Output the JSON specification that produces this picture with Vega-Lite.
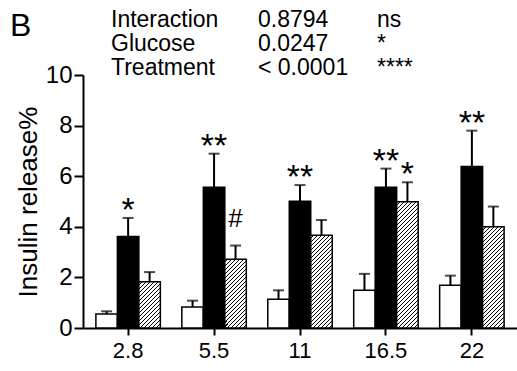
{
  "$schema": "https://vega.github.io/schema/vega-lite/v6.json",
  "width": 434,
  "height": 253,
  "autosize": {"type": "none"},
  "padding": {"left": 83, "top": 75, "right": 0, "bottom": 43},
  "background": "white",
  "config": {
    "view": {"stroke": null},
    "axis": {"domainColor": "black", "tickColor": "black", "labelColor": "black", "titleColor": "black", "domainWidth": 2, "tickWidth": 2, "grid": false, "labelFont": "Liberation Sans", "titleFont": "Liberation Sans", "titleFontWeight": "normal"},
    "axisX": {"labelFontSize": 22, "tickSize": 7, "labelPadding": 5, "labelAngle": 0},
    "axisY": {"labelFontSize": 24, "tickSize": 9, "labelPadding": 2, "titleFontSize": 26, "titlePadding": 4, "values": [0, 2, 4, 6, 8, 10]},
    "text": {"font": "Liberation Sans", "color": "black"}
  },
  "layer": [
    {
      "data": {"values": [
        {"glucose": "2.8", "series": "Control", "value": 0.55, "upper": 0.66, "sig": ""},
        {"glucose": "2.8", "series": "Treated", "value": 3.62, "upper": 4.35, "sig": "*"},
        {"glucose": "2.8", "series": "Treated + inhibitor", "value": 1.83, "upper": 2.21, "sig": ""},
        {"glucose": "5.5", "series": "Control", "value": 0.83, "upper": 1.08, "sig": ""},
        {"glucose": "5.5", "series": "Treated", "value": 5.56, "upper": 6.89, "sig": "**"},
        {"glucose": "5.5", "series": "Treated + inhibitor", "value": 2.72, "upper": 3.26, "sig": "#"},
        {"glucose": "11", "series": "Control", "value": 1.14, "upper": 1.49, "sig": ""},
        {"glucose": "11", "series": "Treated", "value": 5.01, "upper": 5.65, "sig": "**"},
        {"glucose": "11", "series": "Treated + inhibitor", "value": 3.67, "upper": 4.27, "sig": ""},
        {"glucose": "16.5", "series": "Control", "value": 1.49, "upper": 2.14, "sig": ""},
        {"glucose": "16.5", "series": "Treated", "value": 5.56, "upper": 6.30, "sig": "**"},
        {"glucose": "16.5", "series": "Treated + inhibitor", "value": 4.99, "upper": 5.76, "sig": "*"},
        {"glucose": "22", "series": "Control", "value": 1.69, "upper": 2.07, "sig": ""},
        {"glucose": "22", "series": "Treated", "value": 6.38, "upper": 7.80, "sig": "**"},
        {"glucose": "22", "series": "Treated + inhibitor", "value": 4.00, "upper": 4.80, "sig": ""}
      ]},
      "layer": [
        {
          "transform": [{"filter": "datum.series !== 'Treated + inhibitor'"}],
          "mark": {"type": "bar", "stroke": "black", "strokeWidth": 1.5},
          "encoding": {
            "x": {"field": "glucose", "type": "nominal", "title": null, "scale": {"domain": ["2.8", "5.5", "11", "16.5", "22"], "paddingInner": 0.25, "paddingOuter": 0.15}},
            "xOffset": {"field": "series", "type": "nominal", "scale": {"domain": ["Control", "Treated", "Treated + inhibitor"]}},
            "y": {"field": "value", "type": "quantitative", "title": "Insulin release%", "scale": {"domain": [0, 10], "nice": false}},
            "fill": {"field": "series", "type": "nominal", "legend": null, "scale": {"domain": ["Control", "Treated", "Treated + inhibitor"], "range": ["white", "black", "white"]}}
          }
        },
        {
          "transform": [{"filter": "datum.series === 'Treated + inhibitor' && datum.glucose === '2.8'"}],
          "mark": {"type": "bar", "stroke": "black", "strokeWidth": 1.5, "fill": {"gradient": "linear", "x1": 0, "y1": 0, "x2": 1.320, "y2": 2.843, "stops": [
            {"offset": 0, "color": "#fff"}, {"offset": 0.0165, "color": "#fff"}, {"offset": 0.0165, "color": "#000"}, {"offset": 0.025, "color": "#000"},
            {"offset": 0.025, "color": "#fff"}, {"offset": 0.0415, "color": "#fff"}, {"offset": 0.0415, "color": "#000"}, {"offset": 0.05, "color": "#000"},
            {"offset": 0.05, "color": "#fff"}, {"offset": 0.0665, "color": "#fff"}, {"offset": 0.0665, "color": "#000"}, {"offset": 0.075, "color": "#000"},
            {"offset": 0.075, "color": "#fff"}, {"offset": 0.0915, "color": "#fff"}, {"offset": 0.0915, "color": "#000"}, {"offset": 0.1, "color": "#000"},
            {"offset": 0.1, "color": "#fff"}, {"offset": 0.1165, "color": "#fff"}, {"offset": 0.1165, "color": "#000"}, {"offset": 0.125, "color": "#000"},
            {"offset": 0.125, "color": "#fff"}, {"offset": 0.1415, "color": "#fff"}, {"offset": 0.1415, "color": "#000"}, {"offset": 0.15, "color": "#000"},
            {"offset": 0.15, "color": "#fff"}, {"offset": 0.1665, "color": "#fff"}, {"offset": 0.1665, "color": "#000"}, {"offset": 0.175, "color": "#000"},
            {"offset": 0.175, "color": "#fff"}, {"offset": 0.1915, "color": "#fff"}, {"offset": 0.1915, "color": "#000"}, {"offset": 0.2, "color": "#000"},
            {"offset": 0.2, "color": "#fff"}, {"offset": 0.2165, "color": "#fff"}, {"offset": 0.2165, "color": "#000"}, {"offset": 0.225, "color": "#000"},
            {"offset": 0.225, "color": "#fff"}, {"offset": 0.2415, "color": "#fff"}, {"offset": 0.2415, "color": "#000"}, {"offset": 0.25, "color": "#000"},
            {"offset": 0.25, "color": "#fff"}, {"offset": 0.2665, "color": "#fff"}, {"offset": 0.2665, "color": "#000"}, {"offset": 0.275, "color": "#000"},
            {"offset": 0.275, "color": "#fff"}, {"offset": 0.2915, "color": "#fff"}, {"offset": 0.2915, "color": "#000"}, {"offset": 0.3, "color": "#000"},
            {"offset": 0.3, "color": "#fff"}, {"offset": 0.3165, "color": "#fff"}, {"offset": 0.3165, "color": "#000"}, {"offset": 0.325, "color": "#000"},
            {"offset": 0.325, "color": "#fff"}, {"offset": 0.3415, "color": "#fff"}, {"offset": 0.3415, "color": "#000"}, {"offset": 0.35, "color": "#000"},
            {"offset": 0.35, "color": "#fff"}, {"offset": 0.3665, "color": "#fff"}, {"offset": 0.3665, "color": "#000"}, {"offset": 0.375, "color": "#000"},
            {"offset": 0.375, "color": "#fff"}, {"offset": 0.3915, "color": "#fff"}, {"offset": 0.3915, "color": "#000"}, {"offset": 0.4, "color": "#000"},
            {"offset": 0.4, "color": "#fff"}, {"offset": 0.4165, "color": "#fff"}, {"offset": 0.4165, "color": "#000"}, {"offset": 0.425, "color": "#000"},
            {"offset": 0.425, "color": "#fff"}, {"offset": 0.4415, "color": "#fff"}, {"offset": 0.4415, "color": "#000"}, {"offset": 0.45, "color": "#000"},
            {"offset": 0.45, "color": "#fff"}, {"offset": 0.4665, "color": "#fff"}, {"offset": 0.4665, "color": "#000"}, {"offset": 0.475, "color": "#000"},
            {"offset": 0.475, "color": "#fff"}, {"offset": 0.4915, "color": "#fff"}, {"offset": 0.4915, "color": "#000"}, {"offset": 0.5, "color": "#000"}
          ]}},
          "encoding": {
            "x": {"field": "glucose", "type": "nominal", "title": null, "scale": {"domain": ["2.8", "5.5", "11", "16.5", "22"], "paddingInner": 0.25, "paddingOuter": 0.15}},
            "xOffset": {"field": "series", "type": "nominal", "scale": {"domain": ["Control", "Treated", "Treated + inhibitor"]}},
            "y": {"field": "value", "type": "quantitative", "title": "Insulin release%", "scale": {"domain": [0, 10], "nice": false}}
          }
        },
        {
          "transform": [{"filter": "datum.series === 'Treated + inhibitor' && datum.glucose === '5.5'"}],
          "mark": {"type": "bar", "stroke": "black", "strokeWidth": 1.5, "fill": {"gradient": "linear", "x1": 0, "y1": 0, "x2": 0.6621, "y2": 2.1187, "stops": [
            {"offset": 0, "color": "#fff"}, {"offset": 0.0165, "color": "#fff"}, {"offset": 0.0165, "color": "#000"}, {"offset": 0.025, "color": "#000"},
            {"offset": 0.025, "color": "#fff"}, {"offset": 0.0415, "color": "#fff"}, {"offset": 0.0415, "color": "#000"}, {"offset": 0.05, "color": "#000"},
            {"offset": 0.05, "color": "#fff"}, {"offset": 0.0665, "color": "#fff"}, {"offset": 0.0665, "color": "#000"}, {"offset": 0.075, "color": "#000"},
            {"offset": 0.075, "color": "#fff"}, {"offset": 0.0915, "color": "#fff"}, {"offset": 0.0915, "color": "#000"}, {"offset": 0.1, "color": "#000"},
            {"offset": 0.1, "color": "#fff"}, {"offset": 0.1165, "color": "#fff"}, {"offset": 0.1165, "color": "#000"}, {"offset": 0.125, "color": "#000"},
            {"offset": 0.125, "color": "#fff"}, {"offset": 0.1415, "color": "#fff"}, {"offset": 0.1415, "color": "#000"}, {"offset": 0.15, "color": "#000"},
            {"offset": 0.15, "color": "#fff"}, {"offset": 0.1665, "color": "#fff"}, {"offset": 0.1665, "color": "#000"}, {"offset": 0.175, "color": "#000"},
            {"offset": 0.175, "color": "#fff"}, {"offset": 0.1915, "color": "#fff"}, {"offset": 0.1915, "color": "#000"}, {"offset": 0.2, "color": "#000"},
            {"offset": 0.2, "color": "#fff"}, {"offset": 0.2165, "color": "#fff"}, {"offset": 0.2165, "color": "#000"}, {"offset": 0.225, "color": "#000"},
            {"offset": 0.225, "color": "#fff"}, {"offset": 0.2415, "color": "#fff"}, {"offset": 0.2415, "color": "#000"}, {"offset": 0.25, "color": "#000"},
            {"offset": 0.25, "color": "#fff"}, {"offset": 0.2665, "color": "#fff"}, {"offset": 0.2665, "color": "#000"}, {"offset": 0.275, "color": "#000"},
            {"offset": 0.275, "color": "#fff"}, {"offset": 0.2915, "color": "#fff"}, {"offset": 0.2915, "color": "#000"}, {"offset": 0.3, "color": "#000"},
            {"offset": 0.3, "color": "#fff"}, {"offset": 0.3165, "color": "#fff"}, {"offset": 0.3165, "color": "#000"}, {"offset": 0.325, "color": "#000"},
            {"offset": 0.325, "color": "#fff"}, {"offset": 0.3415, "color": "#fff"}, {"offset": 0.3415, "color": "#000"}, {"offset": 0.35, "color": "#000"},
            {"offset": 0.35, "color": "#fff"}, {"offset": 0.3665, "color": "#fff"}, {"offset": 0.3665, "color": "#000"}, {"offset": 0.375, "color": "#000"},
            {"offset": 0.375, "color": "#fff"}, {"offset": 0.3915, "color": "#fff"}, {"offset": 0.3915, "color": "#000"}, {"offset": 0.4, "color": "#000"},
            {"offset": 0.4, "color": "#fff"}, {"offset": 0.4165, "color": "#fff"}, {"offset": 0.4165, "color": "#000"}, {"offset": 0.425, "color": "#000"},
            {"offset": 0.425, "color": "#fff"}, {"offset": 0.4415, "color": "#fff"}, {"offset": 0.4415, "color": "#000"}, {"offset": 0.45, "color": "#000"},
            {"offset": 0.45, "color": "#fff"}, {"offset": 0.4665, "color": "#fff"}, {"offset": 0.4665, "color": "#000"}, {"offset": 0.475, "color": "#000"},
            {"offset": 0.475, "color": "#fff"}, {"offset": 0.4915, "color": "#fff"}, {"offset": 0.4915, "color": "#000"}, {"offset": 0.5, "color": "#000"},
            {"offset": 0.5, "color": "#fff"}, {"offset": 0.5165, "color": "#fff"}, {"offset": 0.5165, "color": "#000"}, {"offset": 0.525, "color": "#000"},
            {"offset": 0.525, "color": "#fff"}, {"offset": 0.5415, "color": "#fff"}, {"offset": 0.5415, "color": "#000"}, {"offset": 0.55, "color": "#000"},
            {"offset": 0.55, "color": "#fff"}, {"offset": 0.5665, "color": "#fff"}, {"offset": 0.5665, "color": "#000"}, {"offset": 0.575, "color": "#000"},
            {"offset": 0.575, "color": "#fff"}, {"offset": 0.5915, "color": "#fff"}, {"offset": 0.5915, "color": "#000"}, {"offset": 0.6, "color": "#000"},
            {"offset": 0.6, "color": "#fff"}, {"offset": 0.6165, "color": "#fff"}, {"offset": 0.6165, "color": "#000"}, {"offset": 0.625, "color": "#000"}
          ]}},
          "encoding": {
            "x": {"field": "glucose", "type": "nominal", "title": null, "scale": {"domain": ["2.8", "5.5", "11", "16.5", "22"], "paddingInner": 0.25, "paddingOuter": 0.15}},
            "xOffset": {"field": "series", "type": "nominal", "scale": {"domain": ["Control", "Treated", "Treated + inhibitor"]}},
            "y": {"field": "value", "type": "quantitative", "title": "Insulin release%", "scale": {"domain": [0, 10], "nice": false}}
          }
        },
        {
          "transform": [{"filter": "datum.series === 'Treated + inhibitor' && datum.glucose === '11'"}],
          "mark": {"type": "bar", "stroke": "black", "strokeWidth": 1.5, "fill": {"gradient": "linear", "x1": 0, "y1": 0, "x2": 0.3783, "y2": 1.6347, "stops": [
            {"offset": 0, "color": "#fff"}, {"offset": 0.0165, "color": "#fff"}, {"offset": 0.0165, "color": "#000"}, {"offset": 0.025, "color": "#000"},
            {"offset": 0.025, "color": "#fff"}, {"offset": 0.0415, "color": "#fff"}, {"offset": 0.0415, "color": "#000"}, {"offset": 0.05, "color": "#000"},
            {"offset": 0.05, "color": "#fff"}, {"offset": 0.0665, "color": "#fff"}, {"offset": 0.0665, "color": "#000"}, {"offset": 0.075, "color": "#000"},
            {"offset": 0.075, "color": "#fff"}, {"offset": 0.0915, "color": "#fff"}, {"offset": 0.0915, "color": "#000"}, {"offset": 0.1, "color": "#000"},
            {"offset": 0.1, "color": "#fff"}, {"offset": 0.1165, "color": "#fff"}, {"offset": 0.1165, "color": "#000"}, {"offset": 0.125, "color": "#000"},
            {"offset": 0.125, "color": "#fff"}, {"offset": 0.1415, "color": "#fff"}, {"offset": 0.1415, "color": "#000"}, {"offset": 0.15, "color": "#000"},
            {"offset": 0.15, "color": "#fff"}, {"offset": 0.1665, "color": "#fff"}, {"offset": 0.1665, "color": "#000"}, {"offset": 0.175, "color": "#000"},
            {"offset": 0.175, "color": "#fff"}, {"offset": 0.1915, "color": "#fff"}, {"offset": 0.1915, "color": "#000"}, {"offset": 0.2, "color": "#000"},
            {"offset": 0.2, "color": "#fff"}, {"offset": 0.2165, "color": "#fff"}, {"offset": 0.2165, "color": "#000"}, {"offset": 0.225, "color": "#000"},
            {"offset": 0.225, "color": "#fff"}, {"offset": 0.2415, "color": "#fff"}, {"offset": 0.2415, "color": "#000"}, {"offset": 0.25, "color": "#000"},
            {"offset": 0.25, "color": "#fff"}, {"offset": 0.2665, "color": "#fff"}, {"offset": 0.2665, "color": "#000"}, {"offset": 0.275, "color": "#000"},
            {"offset": 0.275, "color": "#fff"}, {"offset": 0.2915, "color": "#fff"}, {"offset": 0.2915, "color": "#000"}, {"offset": 0.3, "color": "#000"},
            {"offset": 0.3, "color": "#fff"}, {"offset": 0.3165, "color": "#fff"}, {"offset": 0.3165, "color": "#000"}, {"offset": 0.325, "color": "#000"},
            {"offset": 0.325, "color": "#fff"}, {"offset": 0.3415, "color": "#fff"}, {"offset": 0.3415, "color": "#000"}, {"offset": 0.35, "color": "#000"},
            {"offset": 0.35, "color": "#fff"}, {"offset": 0.3665, "color": "#fff"}, {"offset": 0.3665, "color": "#000"}, {"offset": 0.375, "color": "#000"},
            {"offset": 0.375, "color": "#fff"}, {"offset": 0.3915, "color": "#fff"}, {"offset": 0.3915, "color": "#000"}, {"offset": 0.4, "color": "#000"},
            {"offset": 0.4, "color": "#fff"}, {"offset": 0.4165, "color": "#fff"}, {"offset": 0.4165, "color": "#000"}, {"offset": 0.425, "color": "#000"},
            {"offset": 0.425, "color": "#fff"}, {"offset": 0.4415, "color": "#fff"}, {"offset": 0.4415, "color": "#000"}, {"offset": 0.45, "color": "#000"},
            {"offset": 0.45, "color": "#fff"}, {"offset": 0.4665, "color": "#fff"}, {"offset": 0.4665, "color": "#000"}, {"offset": 0.475, "color": "#000"},
            {"offset": 0.475, "color": "#fff"}, {"offset": 0.4915, "color": "#fff"}, {"offset": 0.4915, "color": "#000"}, {"offset": 0.5, "color": "#000"},
            {"offset": 0.5, "color": "#fff"}, {"offset": 0.5165, "color": "#fff"}, {"offset": 0.5165, "color": "#000"}, {"offset": 0.525, "color": "#000"},
            {"offset": 0.525, "color": "#fff"}, {"offset": 0.5415, "color": "#fff"}, {"offset": 0.5415, "color": "#000"}, {"offset": 0.55, "color": "#000"},
            {"offset": 0.55, "color": "#fff"}, {"offset": 0.5665, "color": "#fff"}, {"offset": 0.5665, "color": "#000"}, {"offset": 0.575, "color": "#000"},
            {"offset": 0.575, "color": "#fff"}, {"offset": 0.5915, "color": "#fff"}, {"offset": 0.5915, "color": "#000"}, {"offset": 0.6, "color": "#000"},
            {"offset": 0.6, "color": "#fff"}, {"offset": 0.6165, "color": "#fff"}, {"offset": 0.6165, "color": "#000"}, {"offset": 0.625, "color": "#000"},
            {"offset": 0.625, "color": "#fff"}, {"offset": 0.6415, "color": "#fff"}, {"offset": 0.6415, "color": "#000"}, {"offset": 0.65, "color": "#000"},
            {"offset": 0.65, "color": "#fff"}, {"offset": 0.6665, "color": "#fff"}, {"offset": 0.6665, "color": "#000"}, {"offset": 0.675, "color": "#000"},
            {"offset": 0.675, "color": "#fff"}, {"offset": 0.6915, "color": "#fff"}, {"offset": 0.6915, "color": "#000"}, {"offset": 0.7, "color": "#000"},
            {"offset": 0.7, "color": "#fff"}, {"offset": 0.7165, "color": "#fff"}, {"offset": 0.7165, "color": "#000"}, {"offset": 0.725, "color": "#000"},
            {"offset": 0.725, "color": "#fff"}, {"offset": 0.7415, "color": "#fff"}, {"offset": 0.7415, "color": "#000"}, {"offset": 0.75, "color": "#000"},
            {"offset": 0.75, "color": "#fff"}, {"offset": 0.7665, "color": "#fff"}, {"offset": 0.7665, "color": "#000"}, {"offset": 0.775, "color": "#000"}
          ]}},
          "encoding": {
            "x": {"field": "glucose", "type": "nominal", "title": null, "scale": {"domain": ["2.8", "5.5", "11", "16.5", "22"], "paddingInner": 0.25, "paddingOuter": 0.15}},
            "xOffset": {"field": "series", "type": "nominal", "scale": {"domain": ["Control", "Treated", "Treated + inhibitor"]}},
            "y": {"field": "value", "type": "quantitative", "title": "Insulin release%", "scale": {"domain": [0, 10], "nice": false}}
          }
        },
        {
          "transform": [{"filter": "datum.series === 'Treated + inhibitor' && datum.glucose === '16.5'"}],
          "mark": {"type": "bar", "stroke": "black", "strokeWidth": 1.5, "fill": {"gradient": "linear", "x1": 0, "y1": 0, "x2": 0.2099, "y2": 1.2321, "stops": [
            {"offset": 0, "color": "#fff"}, {"offset": 0.0165, "color": "#fff"}, {"offset": 0.0165, "color": "#000"}, {"offset": 0.025, "color": "#000"},
            {"offset": 0.025, "color": "#fff"}, {"offset": 0.0415, "color": "#fff"}, {"offset": 0.0415, "color": "#000"}, {"offset": 0.05, "color": "#000"},
            {"offset": 0.05, "color": "#fff"}, {"offset": 0.0665, "color": "#fff"}, {"offset": 0.0665, "color": "#000"}, {"offset": 0.075, "color": "#000"},
            {"offset": 0.075, "color": "#fff"}, {"offset": 0.0915, "color": "#fff"}, {"offset": 0.0915, "color": "#000"}, {"offset": 0.1, "color": "#000"},
            {"offset": 0.1, "color": "#fff"}, {"offset": 0.1165, "color": "#fff"}, {"offset": 0.1165, "color": "#000"}, {"offset": 0.125, "color": "#000"},
            {"offset": 0.125, "color": "#fff"}, {"offset": 0.1415, "color": "#fff"}, {"offset": 0.1415, "color": "#000"}, {"offset": 0.15, "color": "#000"},
            {"offset": 0.15, "color": "#fff"}, {"offset": 0.1665, "color": "#fff"}, {"offset": 0.1665, "color": "#000"}, {"offset": 0.175, "color": "#000"},
            {"offset": 0.175, "color": "#fff"}, {"offset": 0.1915, "color": "#fff"}, {"offset": 0.1915, "color": "#000"}, {"offset": 0.2, "color": "#000"},
            {"offset": 0.2, "color": "#fff"}, {"offset": 0.2165, "color": "#fff"}, {"offset": 0.2165, "color": "#000"}, {"offset": 0.225, "color": "#000"},
            {"offset": 0.225, "color": "#fff"}, {"offset": 0.2415, "color": "#fff"}, {"offset": 0.2415, "color": "#000"}, {"offset": 0.25, "color": "#000"},
            {"offset": 0.25, "color": "#fff"}, {"offset": 0.2665, "color": "#fff"}, {"offset": 0.2665, "color": "#000"}, {"offset": 0.275, "color": "#000"},
            {"offset": 0.275, "color": "#fff"}, {"offset": 0.2915, "color": "#fff"}, {"offset": 0.2915, "color": "#000"}, {"offset": 0.3, "color": "#000"},
            {"offset": 0.3, "color": "#fff"}, {"offset": 0.3165, "color": "#fff"}, {"offset": 0.3165, "color": "#000"}, {"offset": 0.325, "color": "#000"},
            {"offset": 0.325, "color": "#fff"}, {"offset": 0.3415, "color": "#fff"}, {"offset": 0.3415, "color": "#000"}, {"offset": 0.35, "color": "#000"},
            {"offset": 0.35, "color": "#fff"}, {"offset": 0.3665, "color": "#fff"}, {"offset": 0.3665, "color": "#000"}, {"offset": 0.375, "color": "#000"},
            {"offset": 0.375, "color": "#fff"}, {"offset": 0.3915, "color": "#fff"}, {"offset": 0.3915, "color": "#000"}, {"offset": 0.4, "color": "#000"},
            {"offset": 0.4, "color": "#fff"}, {"offset": 0.4165, "color": "#fff"}, {"offset": 0.4165, "color": "#000"}, {"offset": 0.425, "color": "#000"},
            {"offset": 0.425, "color": "#fff"}, {"offset": 0.4415, "color": "#fff"}, {"offset": 0.4415, "color": "#000"}, {"offset": 0.45, "color": "#000"},
            {"offset": 0.45, "color": "#fff"}, {"offset": 0.4665, "color": "#fff"}, {"offset": 0.4665, "color": "#000"}, {"offset": 0.475, "color": "#000"},
            {"offset": 0.475, "color": "#fff"}, {"offset": 0.4915, "color": "#fff"}, {"offset": 0.4915, "color": "#000"}, {"offset": 0.5, "color": "#000"},
            {"offset": 0.5, "color": "#fff"}, {"offset": 0.5165, "color": "#fff"}, {"offset": 0.5165, "color": "#000"}, {"offset": 0.525, "color": "#000"},
            {"offset": 0.525, "color": "#fff"}, {"offset": 0.5415, "color": "#fff"}, {"offset": 0.5415, "color": "#000"}, {"offset": 0.55, "color": "#000"},
            {"offset": 0.55, "color": "#fff"}, {"offset": 0.5665, "color": "#fff"}, {"offset": 0.5665, "color": "#000"}, {"offset": 0.575, "color": "#000"},
            {"offset": 0.575, "color": "#fff"}, {"offset": 0.5915, "color": "#fff"}, {"offset": 0.5915, "color": "#000"}, {"offset": 0.6, "color": "#000"},
            {"offset": 0.6, "color": "#fff"}, {"offset": 0.6165, "color": "#fff"}, {"offset": 0.6165, "color": "#000"}, {"offset": 0.625, "color": "#000"},
            {"offset": 0.625, "color": "#fff"}, {"offset": 0.6415, "color": "#fff"}, {"offset": 0.6415, "color": "#000"}, {"offset": 0.65, "color": "#000"},
            {"offset": 0.65, "color": "#fff"}, {"offset": 0.6665, "color": "#fff"}, {"offset": 0.6665, "color": "#000"}, {"offset": 0.675, "color": "#000"},
            {"offset": 0.675, "color": "#fff"}, {"offset": 0.6915, "color": "#fff"}, {"offset": 0.6915, "color": "#000"}, {"offset": 0.7, "color": "#000"},
            {"offset": 0.7, "color": "#fff"}, {"offset": 0.7165, "color": "#fff"}, {"offset": 0.7165, "color": "#000"}, {"offset": 0.725, "color": "#000"},
            {"offset": 0.725, "color": "#fff"}, {"offset": 0.7415, "color": "#fff"}, {"offset": 0.7415, "color": "#000"}, {"offset": 0.75, "color": "#000"},
            {"offset": 0.75, "color": "#fff"}, {"offset": 0.7665, "color": "#fff"}, {"offset": 0.7665, "color": "#000"}, {"offset": 0.775, "color": "#000"},
            {"offset": 0.775, "color": "#fff"}, {"offset": 0.7915, "color": "#fff"}, {"offset": 0.7915, "color": "#000"}, {"offset": 0.8, "color": "#000"},
            {"offset": 0.8, "color": "#fff"}, {"offset": 0.8165, "color": "#fff"}, {"offset": 0.8165, "color": "#000"}, {"offset": 0.825, "color": "#000"},
            {"offset": 0.825, "color": "#fff"}, {"offset": 0.8415, "color": "#fff"}, {"offset": 0.8415, "color": "#000"}, {"offset": 0.85, "color": "#000"},
            {"offset": 0.85, "color": "#fff"}, {"offset": 0.8665, "color": "#fff"}, {"offset": 0.8665, "color": "#000"}, {"offset": 0.875, "color": "#000"},
            {"offset": 0.875, "color": "#fff"}, {"offset": 0.8915, "color": "#fff"}, {"offset": 0.8915, "color": "#000"}, {"offset": 0.9, "color": "#000"},
            {"offset": 0.9, "color": "#fff"}, {"offset": 0.9165, "color": "#fff"}, {"offset": 0.9165, "color": "#000"}, {"offset": 0.925, "color": "#000"},
            {"offset": 0.925, "color": "#fff"}, {"offset": 0.9415, "color": "#fff"}, {"offset": 0.9415, "color": "#000"}, {"offset": 0.95, "color": "#000"},
            {"offset": 0.95, "color": "#fff"}, {"offset": 0.9665, "color": "#fff"}, {"offset": 0.9665, "color": "#000"}, {"offset": 0.975, "color": "#000"}
          ]}},
          "encoding": {
            "x": {"field": "glucose", "type": "nominal", "title": null, "scale": {"domain": ["2.8", "5.5", "11", "16.5", "22"], "paddingInner": 0.25, "paddingOuter": 0.15}},
            "xOffset": {"field": "series", "type": "nominal", "scale": {"domain": ["Control", "Treated", "Treated + inhibitor"]}},
            "y": {"field": "value", "type": "quantitative", "title": "Insulin release%", "scale": {"domain": [0, 10], "nice": false}}
          }
        },
        {
          "transform": [{"filter": "datum.series === 'Treated + inhibitor' && datum.glucose === '22'"}],
          "mark": {"type": "bar", "stroke": "black", "strokeWidth": 1.5, "fill": {"gradient": "linear", "x1": 0, "y1": 0, "x2": 0.3214, "y2": 1.5127, "stops": [
            {"offset": 0, "color": "#fff"}, {"offset": 0.0165, "color": "#fff"}, {"offset": 0.0165, "color": "#000"}, {"offset": 0.025, "color": "#000"},
            {"offset": 0.025, "color": "#fff"}, {"offset": 0.0415, "color": "#fff"}, {"offset": 0.0415, "color": "#000"}, {"offset": 0.05, "color": "#000"},
            {"offset": 0.05, "color": "#fff"}, {"offset": 0.0665, "color": "#fff"}, {"offset": 0.0665, "color": "#000"}, {"offset": 0.075, "color": "#000"},
            {"offset": 0.075, "color": "#fff"}, {"offset": 0.0915, "color": "#fff"}, {"offset": 0.0915, "color": "#000"}, {"offset": 0.1, "color": "#000"},
            {"offset": 0.1, "color": "#fff"}, {"offset": 0.1165, "color": "#fff"}, {"offset": 0.1165, "color": "#000"}, {"offset": 0.125, "color": "#000"},
            {"offset": 0.125, "color": "#fff"}, {"offset": 0.1415, "color": "#fff"}, {"offset": 0.1415, "color": "#000"}, {"offset": 0.15, "color": "#000"},
            {"offset": 0.15, "color": "#fff"}, {"offset": 0.1665, "color": "#fff"}, {"offset": 0.1665, "color": "#000"}, {"offset": 0.175, "color": "#000"},
            {"offset": 0.175, "color": "#fff"}, {"offset": 0.1915, "color": "#fff"}, {"offset": 0.1915, "color": "#000"}, {"offset": 0.2, "color": "#000"},
            {"offset": 0.2, "color": "#fff"}, {"offset": 0.2165, "color": "#fff"}, {"offset": 0.2165, "color": "#000"}, {"offset": 0.225, "color": "#000"},
            {"offset": 0.225, "color": "#fff"}, {"offset": 0.2415, "color": "#fff"}, {"offset": 0.2415, "color": "#000"}, {"offset": 0.25, "color": "#000"},
            {"offset": 0.25, "color": "#fff"}, {"offset": 0.2665, "color": "#fff"}, {"offset": 0.2665, "color": "#000"}, {"offset": 0.275, "color": "#000"},
            {"offset": 0.275, "color": "#fff"}, {"offset": 0.2915, "color": "#fff"}, {"offset": 0.2915, "color": "#000"}, {"offset": 0.3, "color": "#000"},
            {"offset": 0.3, "color": "#fff"}, {"offset": 0.3165, "color": "#fff"}, {"offset": 0.3165, "color": "#000"}, {"offset": 0.325, "color": "#000"},
            {"offset": 0.325, "color": "#fff"}, {"offset": 0.3415, "color": "#fff"}, {"offset": 0.3415, "color": "#000"}, {"offset": 0.35, "color": "#000"},
            {"offset": 0.35, "color": "#fff"}, {"offset": 0.3665, "color": "#fff"}, {"offset": 0.3665, "color": "#000"}, {"offset": 0.375, "color": "#000"},
            {"offset": 0.375, "color": "#fff"}, {"offset": 0.3915, "color": "#fff"}, {"offset": 0.3915, "color": "#000"}, {"offset": 0.4, "color": "#000"},
            {"offset": 0.4, "color": "#fff"}, {"offset": 0.4165, "color": "#fff"}, {"offset": 0.4165, "color": "#000"}, {"offset": 0.425, "color": "#000"},
            {"offset": 0.425, "color": "#fff"}, {"offset": 0.4415, "color": "#fff"}, {"offset": 0.4415, "color": "#000"}, {"offset": 0.45, "color": "#000"},
            {"offset": 0.45, "color": "#fff"}, {"offset": 0.4665, "color": "#fff"}, {"offset": 0.4665, "color": "#000"}, {"offset": 0.475, "color": "#000"},
            {"offset": 0.475, "color": "#fff"}, {"offset": 0.4915, "color": "#fff"}, {"offset": 0.4915, "color": "#000"}, {"offset": 0.5, "color": "#000"},
            {"offset": 0.5, "color": "#fff"}, {"offset": 0.5165, "color": "#fff"}, {"offset": 0.5165, "color": "#000"}, {"offset": 0.525, "color": "#000"},
            {"offset": 0.525, "color": "#fff"}, {"offset": 0.5415, "color": "#fff"}, {"offset": 0.5415, "color": "#000"}, {"offset": 0.55, "color": "#000"},
            {"offset": 0.55, "color": "#fff"}, {"offset": 0.5665, "color": "#fff"}, {"offset": 0.5665, "color": "#000"}, {"offset": 0.575, "color": "#000"},
            {"offset": 0.575, "color": "#fff"}, {"offset": 0.5915, "color": "#fff"}, {"offset": 0.5915, "color": "#000"}, {"offset": 0.6, "color": "#000"},
            {"offset": 0.6, "color": "#fff"}, {"offset": 0.6165, "color": "#fff"}, {"offset": 0.6165, "color": "#000"}, {"offset": 0.625, "color": "#000"},
            {"offset": 0.625, "color": "#fff"}, {"offset": 0.6415, "color": "#fff"}, {"offset": 0.6415, "color": "#000"}, {"offset": 0.65, "color": "#000"},
            {"offset": 0.65, "color": "#fff"}, {"offset": 0.6665, "color": "#fff"}, {"offset": 0.6665, "color": "#000"}, {"offset": 0.675, "color": "#000"},
            {"offset": 0.675, "color": "#fff"}, {"offset": 0.6915, "color": "#fff"}, {"offset": 0.6915, "color": "#000"}, {"offset": 0.7, "color": "#000"},
            {"offset": 0.7, "color": "#fff"}, {"offset": 0.7165, "color": "#fff"}, {"offset": 0.7165, "color": "#000"}, {"offset": 0.725, "color": "#000"},
            {"offset": 0.725, "color": "#fff"}, {"offset": 0.7415, "color": "#fff"}, {"offset": 0.7415, "color": "#000"}, {"offset": 0.75, "color": "#000"},
            {"offset": 0.75, "color": "#fff"}, {"offset": 0.7665, "color": "#fff"}, {"offset": 0.7665, "color": "#000"}, {"offset": 0.775, "color": "#000"},
            {"offset": 0.775, "color": "#fff"}, {"offset": 0.7915, "color": "#fff"}, {"offset": 0.7915, "color": "#000"}, {"offset": 0.8, "color": "#000"},
            {"offset": 0.8, "color": "#fff"}, {"offset": 0.8165, "color": "#fff"}, {"offset": 0.8165, "color": "#000"}, {"offset": 0.825, "color": "#000"}
          ]}},
          "encoding": {
            "x": {"field": "glucose", "type": "nominal", "title": null, "scale": {"domain": ["2.8", "5.5", "11", "16.5", "22"], "paddingInner": 0.25, "paddingOuter": 0.15}},
            "xOffset": {"field": "series", "type": "nominal", "scale": {"domain": ["Control", "Treated", "Treated + inhibitor"]}},
            "y": {"field": "value", "type": "quantitative", "title": "Insulin release%", "scale": {"domain": [0, 10], "nice": false}}
          }
        },
        {
          "mark": {"type": "rule", "color": "black", "strokeWidth": 2},
          "encoding": {
            "x": {"field": "glucose", "type": "nominal", "title": null, "scale": {"domain": ["2.8", "5.5", "11", "16.5", "22"], "paddingInner": 0.25, "paddingOuter": 0.15}},
            "xOffset": {"field": "series", "type": "nominal", "scale": {"domain": ["Control", "Treated", "Treated + inhibitor"]}},
            "y": {"field": "value", "type": "quantitative", "title": "Insulin release%", "scale": {"domain": [0, 10], "nice": false}},
            "y2": {"field": "upper"}
          }
        },
        {
          "mark": {"type": "tick", "color": "black", "size": 11, "thickness": 2, "orient": "horizontal"},
          "encoding": {
            "x": {"field": "glucose", "type": "nominal", "title": null, "scale": {"domain": ["2.8", "5.5", "11", "16.5", "22"], "paddingInner": 0.25, "paddingOuter": 0.15}},
            "xOffset": {"field": "series", "type": "nominal", "scale": {"domain": ["Control", "Treated", "Treated + inhibitor"]}},
            "y": {"field": "upper", "type": "quantitative", "title": "Insulin release%", "scale": {"domain": [0, 10], "nice": false}}
          }
        },
        {
          "transform": [{"filter": "indexof(datum.sig, '*') >= 0"}],
          "mark": {"type": "text", "fontSize": 34, "baseline": "alphabetic", "align": "center", "dy": 3},
          "encoding": {
            "x": {"field": "glucose", "type": "nominal", "title": null, "scale": {"domain": ["2.8", "5.5", "11", "16.5", "22"], "paddingInner": 0.25, "paddingOuter": 0.15}},
            "xOffset": {"field": "series", "type": "nominal", "scale": {"domain": ["Control", "Treated", "Treated + inhibitor"]}},
            "y": {"field": "upper", "type": "quantitative", "title": "Insulin release%", "scale": {"domain": [0, 10], "nice": false}},
            "text": {"field": "sig"}
          }
        },
        {
          "transform": [{"filter": "datum.sig === '#'"}],
          "mark": {"type": "text", "fontSize": 26, "baseline": "alphabetic", "align": "center", "dy": -19},
          "encoding": {
            "x": {"field": "glucose", "type": "nominal", "title": null, "scale": {"domain": ["2.8", "5.5", "11", "16.5", "22"], "paddingInner": 0.25, "paddingOuter": 0.15}},
            "xOffset": {"field": "series", "type": "nominal", "scale": {"domain": ["Control", "Treated", "Treated + inhibitor"]}},
            "y": {"field": "upper", "type": "quantitative", "title": "Insulin release%", "scale": {"domain": [0, 10], "nice": false}},
            "text": {"field": "sig"}
          }
        }
      ]
    },
    {
      "data": {"values": [
        {"term": "Interaction", "p": "0.8794", "summary": "ns"},
        {"term": "Glucose", "p": "0.0247", "summary": "*"},
        {"term": "Treatment", "p": "< 0.0001", "summary": "****"}
      ]},
      "encoding": {
        "y": {"field": "term", "type": "nominal", "axis": null, "scale": {"type": "point", "domain": ["Interaction", "Glucose", "Treatment"], "range": [-48.5, 0], "padding": 0}}
      },
      "layer": [
        {"mark": {"type": "text", "fontSize": 23, "align": "left", "baseline": "alphabetic", "x": 28}, "encoding": {"text": {"field": "term"}}},
        {"mark": {"type": "text", "fontSize": 23, "align": "left", "baseline": "alphabetic", "x": 175}, "encoding": {"text": {"field": "p"}}},
        {"mark": {"type": "text", "fontSize": 23, "align": "left", "baseline": "alphabetic", "x": 294}, "encoding": {"text": {"field": "summary"}}}
      ]
    },
    {
      "data": {"values": [{"panel": "B"}]},
      "mark": {"type": "text", "fontSize": 32, "align": "left", "baseline": "alphabetic", "x": -73, "y": -39},
      "encoding": {"text": {"field": "panel"}}
    }
  ],
  "resolve": {"scale": {"y": "independent"}, "axis": {"y": "independent"}}
}
